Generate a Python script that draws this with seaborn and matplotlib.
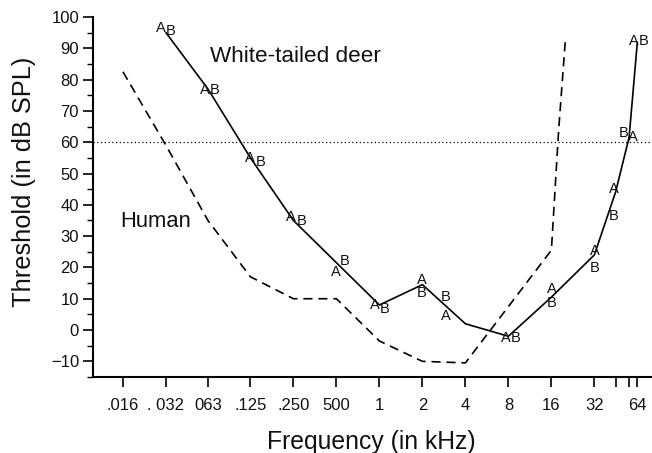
import numpy as np
import pandas as pd
import matplotlib
matplotlib.use("Agg")
import matplotlib.pyplot as plt
from matplotlib.ticker import FixedLocator, NullFormatter
import seaborn as sns

# mean deer audiogram (solid line)
deer_khz = [0.032, 0.063, 0.125, 0.25, 0.5, 1, 2, 4, 8, 16, 32, 45, 56, 64]
deer_db = [95, 77, 55, 35, 21.5, 8, 14.5, 2, -2, 10.5, 24, 44, 61.5, 92]

# human audiogram (dashed line)
human_khz = [0.016, 0.032, 0.063, 0.125, 0.25, 0.5, 1, 2, 4, 16, 18, 20]
human_db = [82.5, 59, 35, 17, 10, 10, -3.5, -10, -10.5, 25.5, 64, 92]

# individual animals A and B
anim_khz = [0.032, 0.063, 0.125, 0.25, 0.5, 1, 2, 2.9, 8, 16, 32, 45, 56, 64]
a_db = [96.5, 76.8, 55.1, 36, 18.5, 8, 16.0, 4.5, -2.5, 13, 25.2, 44.9, 61.8, 92.4]
b_db = [95.4, 76.8, 53.8, 34.7, 22.0, 6.7, 11.8, 10.5, -2.5, 8.6, 19.7, 36.3, 63, 92.4]

tick_khz = [0.016, 0.032, 0.063, 0.125, 0.25, 0.5, 1, 2, 4, 8, 16, 32, 64]
tick_labels = [".016", ". 032", "063", ".125", ".250", "500", "1", "2", "4", "8", "16", "32", "64"]
minor_khz = [45, 56]

# horizontal nudges of the letters, in pixels
a_dx = [-5, -3, -1, -3, -1, -5, -1, 0, -3, 0, 0, -2, 4, -4]
b_dx = [5, 7, 10, 8, 8, 5, -1, 0, 7, 0, 0, -2, -5, 6]

sns.set_style("ticks")
plt.rcParams["font.family"] = ["Liberation Sans", "DejaVu Sans"]

fig = plt.figure(figsize=(6.52, 4.53), dpi=100)
ax = fig.add_axes([0.1426, 0.1678, 0.857, 0.7947])

deer = pd.DataFrame({"khz": deer_khz, "db": deer_db})
human = pd.DataFrame({"khz": human_khz, "db": human_db})

sns.lineplot(data=deer, x="khz", y="db", sort=False, color="black", lw=1.2, ax=ax)
sns.lineplot(data=human, x="khz", y="db", sort=False, color="black", lw=1.2,
             dashes=False, ax=ax)
ax.lines[-1].set_dashes([5.5, 3.5])
ax.axhline(60, color="black", lw=0.9, ls=(0, (1, 2)))

px = 0.72
for f, a, b, da, db_ in zip(anim_khz, a_db, b_db, a_dx, b_dx):
    ax.annotate("A", (f, a), xytext=(da * px, 0), textcoords="offset points",
                ha="center", va="center", fontsize=10.5, color="#111111")
    ax.annotate("B", (f, b), xytext=(db_ * px, 0), textcoords="offset points",
                ha="center", va="center", fontsize=10.5, color="#111111")

ax.text(0.0153, 34.7, "Human", fontsize=15.8, ha="left", va="center", color="#111111")
ax.text(0.065, 87.3, "White-tailed deer", fontsize=16.2, ha="left", va="center",
        color="#111111")

ax.set_xscale("log", base=2)
ax.set_xlim(0.00987, 80.7)
ax.set_ylim(-15, 100)
ax.xaxis.set_major_locator(FixedLocator(tick_khz))
ax.set_xticklabels(tick_labels)
ax.xaxis.set_minor_locator(FixedLocator(minor_khz))
ax.xaxis.set_minor_formatter(NullFormatter())
ax.set_yticks(np.arange(-10, 101, 10))
ax.yaxis.set_minor_locator(FixedLocator(np.arange(-15, 101, 5)))

ax.tick_params(axis="both", which="major", length=7, width=1.2, labelsize=12,
               color="black", labelcolor="#111111", pad=8)
ax.tick_params(axis="y", which="minor", length=4, width=1.0, color="black")
ax.tick_params(axis="x", which="minor", length=7, width=1.2, color="black")
ax.tick_params(axis="y", which="major", pad=3)

for side in ["top", "right"]:
    ax.spines[side].set_visible(False)
for side in ["left", "bottom"]:
    ax.spines[side].set_linewidth(1.5)
    ax.spines[side].set_color("black")

ax.set_xlabel("Frequency (in kHz)", fontsize=17.8, color="#111111")
ax.set_ylabel("Threshold (in dB SPL)", fontsize=18.3, color="#111111")
ax.xaxis.set_label_coords(0.499, -0.147)
ax.yaxis.set_label_coords(-0.102, 0.542)

fig.savefig("out.png", dpi=100)
